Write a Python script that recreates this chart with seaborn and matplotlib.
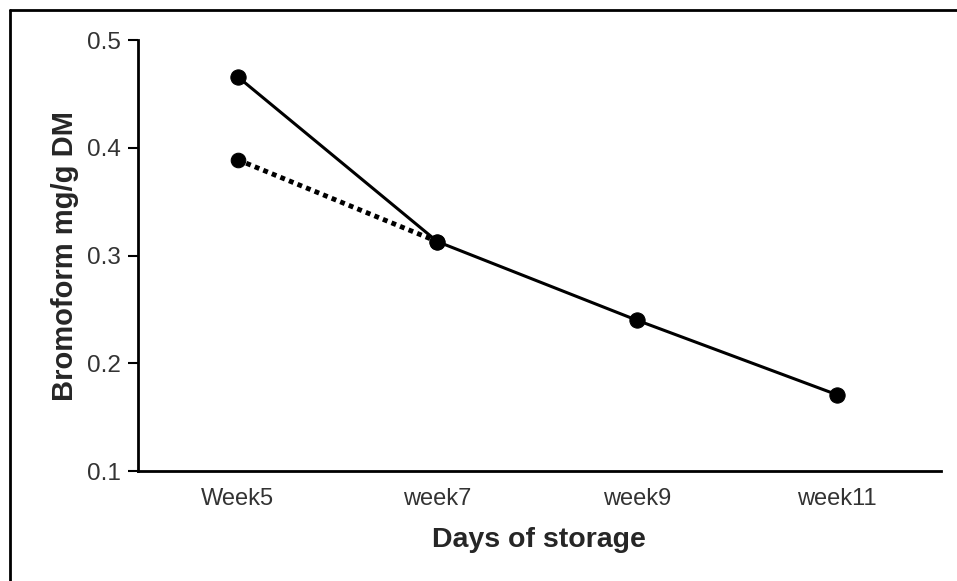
import matplotlib
matplotlib.use('Agg')
from matplotlib import pyplot as plt
from matplotlib.lines import Line2D
import pandas as pd
import seaborn as sns

# data
weeks = ["Week5", "week7", "week9", "week11"]
bromoform_solid = [0.466, 0.313, 0.240, 0.171]
dotted_weeks = ["Week5", "week7"]
bromoform_dotted = [0.389, 0.313]

sns.set_theme(style="ticks")
plt.rcParams['font.family'] = ['Liberation Sans', 'DejaVu Sans']

df_solid = pd.DataFrame({"week": weeks, "value": bromoform_solid})
df_dotted = pd.DataFrame({"week": dotted_weeks, "value": bromoform_dotted})

fig = plt.figure(figsize=(9.57, 5.81), dpi=100)
ax = fig.add_axes([0.144, 0.189, 0.839, 0.742])

sns.lineplot(data=df_dotted, x="week", y="value", ax=ax, color="black",
             linewidth=3.5, linestyle=(0, (1, 0.9)), marker="o", markersize=10.5,
             markeredgecolor="black")
sns.lineplot(data=df_solid, x="week", y="value", ax=ax, color="black",
             linewidth=2.2, marker="o", markersize=11, markeredgecolor="black")

ax.set_xlim(-0.5, 3.52)
ax.set_ylim(0.1, 0.5)
ax.set_yticks([0.1, 0.2, 0.3, 0.4, 0.5])
ax.set_yticklabels(["0.1", "0.2", "0.3", "0.4", "0.5"])
ax.tick_params(axis='y', length=7, width=1.5, labelsize=17.5, colors="black", pad=5)
ax.tick_params(axis='x', length=0, labelsize=17, pad=12)
for lbl in ax.get_xticklabels() + ax.get_yticklabels():
    lbl.set_color("#333333")

sns.despine(ax=ax)
for s in ["left", "bottom"]:
    ax.spines[s].set_linewidth(2)
    ax.spines[s].set_color("black")

ax.set_xlabel("Days of storage", fontsize=20.5, fontweight="bold", labelpad=12)
ax.set_ylabel("Bromoform mg/g DM", fontsize=21, fontweight="bold", labelpad=6)

# outer frame (cropped on right/bottom in the reference)
fig.add_artist(Line2D([10 / 957, 10 / 957], [0, 1 - 10 / 581], transform=fig.transFigure,
                      color="black", linewidth=2))
fig.add_artist(Line2D([10 / 957, 1], [1 - 10 / 581, 1 - 10 / 581], transform=fig.transFigure,
                      color="black", linewidth=2))

fig.savefig("out.png", dpi=100)
